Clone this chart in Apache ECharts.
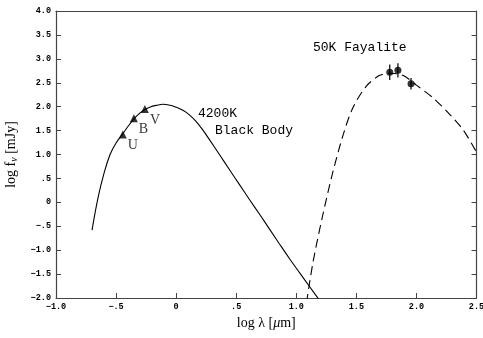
<!DOCTYPE html>
<html><head><meta charset="utf-8">
<script src="https://cdn.jsdelivr.net/npm/echarts@6/dist/echarts.min.js"></script>
<style>html,body{margin:0;padding:0;background:#fff}#c{width:483px;height:338px}</style>
</head><body><div id="c"></div>
<script>
// 4200K black body curve
const bbX = [-0.70,-0.65,-0.60,-0.55,-0.50,-0.44,-0.40,-0.35,-0.30,-0.26,-0.22,-0.16,-0.11,-0.05,0.00,0.06,0.11,0.16,0.22,0.28,0.36,0.45,0.53,0.61,0.70,0.78,0.86,0.95,1.03,1.11,1.20];
const bbY = [-0.58,0.10,0.61,1.00,1.24,1.45,1.59,1.75,1.87,1.94,1.99,2.03,2.05,2.03,1.99,1.92,1.83,1.71,1.52,1.30,1.00,0.66,0.36,0.06,-0.27,-0.57,-0.87,-1.20,-1.48,-1.76,-2.07];
// 50K Fayalite curve
const fyX = [1.085,1.14,1.22,1.305,1.39,1.47,1.58,1.69,1.78,1.89,2.00,2.14,2.28,2.39,2.50];
const fyY = [-2.10,-1.24,-0.27,0.64,1.41,1.97,2.42,2.65,2.70,2.65,2.45,2.18,1.83,1.51,1.05];
// UBV photometry
const ubvX = [-0.444,-0.352,-0.26];
const ubvY = [1.42,1.76,1.95];
const ubvLabels = ['U','B','V'];
// far-IR points with error bars
const irX = [1.778,1.846,1.955];
const irY = [2.72,2.76,2.48];
const irErr = [0.16,0.15,0.12];
const xTicks = {min:-1.0,max:2.5,step:0.5};
const yTicks = {min:-2.0,max:4.0,step:0.5};

function fmt(v){
  const a = Math.abs(v);
  let s;
  if (a < 1e-9) return '0';
  if (a < 1) s = '.' + Math.round(a*10);
  else s = a.toFixed(1);
  return (v < 0 ? '\u2212' : '') + s;
}

const chart = echarts.init(document.getElementById('c'), null, {renderer:'canvas'});
const axisLine = {show:true, onZero:false, lineStyle:{color:'#444', width:1.2}};
const tickFont = {fontFamily:'Liberation Mono', fontWeight:'bold', fontSize:8.5, color:'#000'};
chart.setOption({
  animation:false,
  backgroundColor:'#fff',
  grid:{left:56, right:6.5, top:11, bottom:40, containLabel:false, outerBoundsMode:'none'},
  xAxis:[{
    type:'value', min:xTicks.min, max:xTicks.max, interval:xTicks.step,
    axisLine:axisLine, splitLine:{show:false},
    axisTick:{show:true, inside:true, length:5, lineStyle:{color:'#444'}},
    axisLabel:Object.assign({formatter:fmt, margin:4, showMaxLabel:true, hideOverlap:false}, tickFont),
    name:'{a|log }{a|\u03bb [}{i|\u03bc}{a|m]}', nameLocation:'middle', nameGap:14,
    nameTextStyle:{verticalAlign:'top', rich:{a:{fontFamily:'Liberation Serif', fontSize:14, color:'#000'}, i:{fontFamily:'Liberation Serif', fontStyle:'italic', fontSize:14, color:'#000'}}}
  },{
    type:'value', position:'top', min:xTicks.min, max:xTicks.max, interval:xTicks.step,
    axisLine:axisLine, axisTick:{show:false}, axisLabel:{show:false}, splitLine:{show:false}
  }],
  yAxis:[{
    type:'value', min:yTicks.min, max:yTicks.max, interval:yTicks.step,
    axisLine:axisLine, splitLine:{show:false},
    axisTick:{show:true, inside:true, length:5, lineStyle:{color:'#444'}},
    axisLabel:Object.assign({formatter:fmt, margin:5}, tickFont),
    name:'{a|log f}{s|\u03bd}{a| [mJy]}', nameLocation:'middle', nameGap:33, nameRotate:90,
    nameTextStyle:{rich:{a:{fontFamily:'Liberation Serif', fontSize:14, color:'#000'}, s:{fontFamily:'Liberation Serif', fontStyle:'italic', fontSize:10, color:'#000', padding:[6,0,0,0]}}}
  },{
    type:'value', position:'right', min:yTicks.min, max:yTicks.max, interval:yTicks.step,
    axisLine:axisLine, axisTick:{show:true, inside:true, length:5, lineStyle:{color:'#444'}},
    axisLabel:{show:false}, splitLine:{show:false}
  }],
  series:[
    {type:'line', data:bbX.map((x,i)=>[x,bbY[i]]), smooth:0.4, showSymbol:false, symbol:'none',
     lineStyle:{color:'#000', width:1.1}, clip:true},
    {type:'line', data:fyX.map((x,i)=>[x,fyY[i]]), smooth:0.3, showSymbol:false, symbol:'none',
     lineStyle:{color:'#000', width:1.1, type:[9,5]}, clip:true},
    {type:'scatter', data:ubvX.map((x,i)=>({value:[x,ubvY[i]], label:{formatter:ubvLabels[i]}})),
     symbol:'triangle', symbolSize:8, itemStyle:{color:'#000'},
     label:{show:true, position:'right', offset:[-4,11], fontFamily:'Liberation Serif', fontSize:14, color:'#000'}},
    {type:'custom', data:irX.map((x,i)=>[x,irY[i],irErr[i]]),
     renderItem:function(params, api){
       const x = api.value(0), y = api.value(1), e = api.value(2);
       const p1 = api.coord([x, y+e]), p2 = api.coord([x, y-e]);
       return {type:'line', shape:{x1:p1[0], y1:p1[1], x2:p2[0], y2:p2[1]}, style:{stroke:'#000', lineWidth:1.2}};
     }},
    {type:'scatter', data:irX.map((x,i)=>[x,irY[i]]), symbol:'circle', symbolSize:7, itemStyle:{color:'#000'}}
  ],
  graphic:[
    {type:'text', left:198, top:107, style:{text:'4200K', font:'13px "Liberation Mono"', fill:'#000'}},
    {type:'text', left:215, top:124, style:{text:'Black Body', font:'13px "Liberation Mono"', fill:'#000'}},
    {type:'text', left:313, top:41, style:{text:'50K Fayalite', font:'13px "Liberation Mono"', fill:'#000'}}
  ]
});
</script></body></html>
